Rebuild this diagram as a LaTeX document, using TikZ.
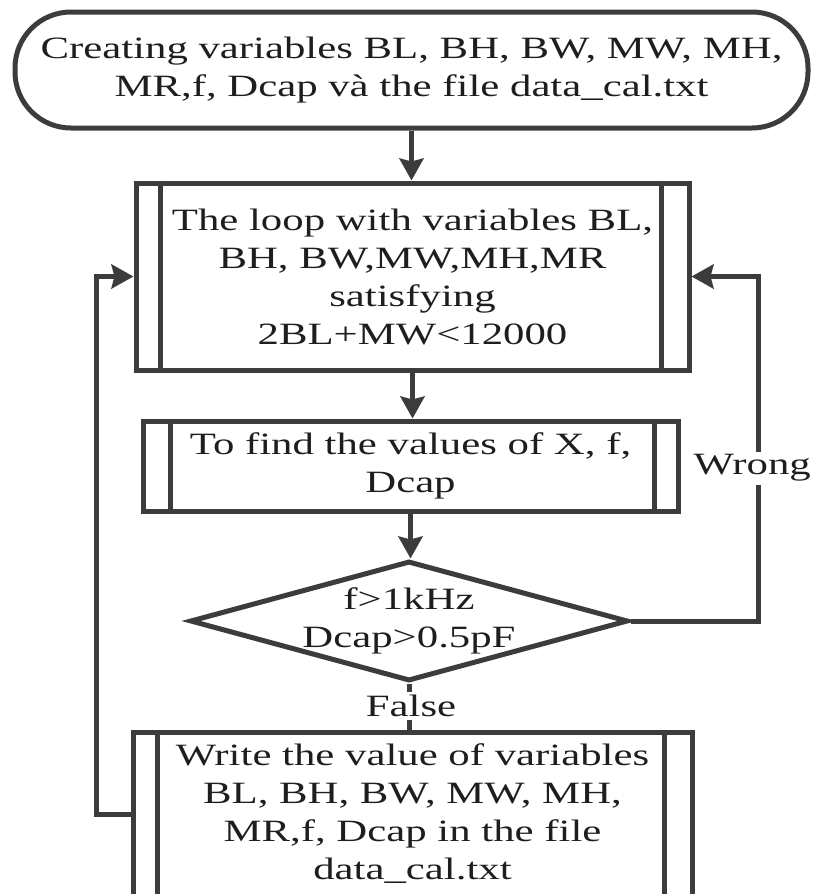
\documentclass[tikz,border=0pt]{standalone}
\usepackage{fontspec}
\setmainfont[FakeStretch=1.38]{Liberation Serif}
\usetikzlibrary{arrows.meta,shapes.geometric}
\definecolor{ink}{RGB}{60,60,60}
\definecolor{txt}{RGB}{30,30,30}

\begin{document}
\begin{tikzpicture}[x=1pt,y=-1pt,
  every node/.style={font=\fontsize{31}{38}\selectfont, text=txt, align=center},
  edge/.style={draw=ink, line width=5pt},
  arr/.style={edge, -{Stealth[length=22pt,width=24pt,inset=3pt]}},
  terminal/.style={draw=ink, line width=5pt, rounded corners=56pt, inner sep=0pt},
  procbox/.style={draw=ink, line width=5pt, inner sep=0pt},
  bar/.style={draw=ink, line width=5pt},
  decision/.style={diamond, draw=ink, line width=5pt, inner sep=0pt},
  tag/.style={fill=white, inner xsep=1pt, inner ysep=3pt}]

% page frame
\clip (0,0) rectangle (815,894);
\fill[white] (0,0) rectangle (815,894);

% start terminal
\node[terminal, minimum width=793pt, minimum height=116pt] (term) at (411.5,70)
  {Creating variables BL, BH, BW, MW, MH,\\MR,f, Dcap và the file data\_cal.txt};

% loop box
\node[procbox, minimum width=553pt, minimum height=187pt] (b1) at (412.5,276.5)
  {The loop with variables BL,\\BH, BW,MW,MH,MR\\satisfying\\2BL+MW<12000};
\draw[bar] ([xshift=27pt]b1.north west) -- ([xshift=27pt]b1.south west);
\draw[bar] ([xshift=-30pt]b1.north east) -- ([xshift=-30pt]b1.south east);

% computation box
\node[procbox, minimum width=535pt, minimum height=90pt] (b2) at (410.5,466)
  {To find the values of X, f,\\Dcap};
\draw[bar] ([xshift=30pt]b2.north west) -- ([xshift=30pt]b2.south west);
\draw[bar] ([xshift=-26pt]b2.north east) -- ([xshift=-26pt]b2.south east);

% decision
\node[decision, minimum width=438pt, minimum height=120pt] (dec) at (409,621) {};
\node (dectext) at (dec.center) {f>1kHz\\Dcap>0.5pF};

% output box
\node[procbox, minimum width=559pt, minimum height=164pt] (b3) at (412.5,814)
  {Write the value of variables\\BL, BH, BW, MW, MH,\\MR,f, Dcap in the file\\data\_cal.txt};
\draw[bar] ([xshift=27pt]b3.north west) -- ([xshift=27pt]b3.south west);
\draw[bar] ([xshift=-30pt]b3.north east) -- ([xshift=-30pt]b3.south east);

% main flow
\draw[arr] (term.south) -- (term.south |- b1.north);
\draw[arr] (b1.south) -- (b1.south |- b2.north);
\draw[arr] (b2.south) -- (b2.south |- dec.north);
\draw[edge] (dec.south) -- (dec.south |- b3.north);
\node[tag] (false) at (411,706) {False};

% return paths
\draw[arr] (b3.west) -- ++(-34,0) |- (b1.west);
\draw[arr] (dec.east) -- ++(128,0) coordinate (rc) |- (b1.east);
\node[tag, anchor=east] (wrong) at (812,468) {Wrong};

\end{tikzpicture}
\end{document}
